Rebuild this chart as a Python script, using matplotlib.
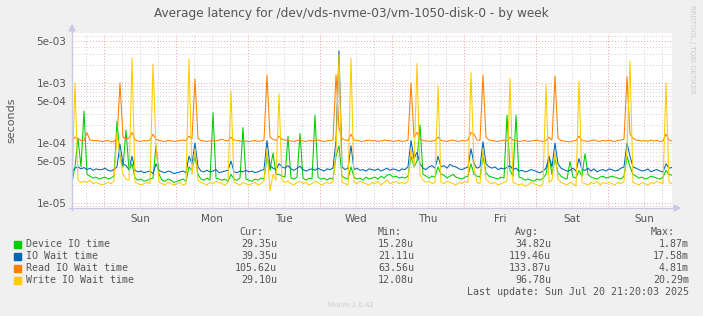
"""
Munin style week graph: average disk latency, log scale
"""
import numpy as np
import pandas as pd
import matplotlib
matplotlib.use('Agg')
import matplotlib.pyplot as plt
from matplotlib.lines import Line2D
from matplotlib.patches import Rectangle, Polygon

# hourly samples, microseconds
start = '2025-07-12 13:20'

device_io = [
    22, 40, 120, 40, 340, 30, 28, 26, 27, 25,
    26, 27, 25, 26, 28, 230, 60, 40, 165, 35,
    45, 26, 24, 25, 23, 24, 25, 26, 90, 30,
    24, 23, 25, 24, 22, 23, 24, 25, 23, 40,
    35, 60, 30, 25, 24, 26, 24, 320, 26, 25,
    24, 25, 23, 30, 25, 24, 26, 180, 25, 24,
    23, 25, 24, 26, 25, 60, 35, 68, 30, 30,
    28, 27, 130, 26, 25, 27, 145, 26, 24, 26,
    25, 290, 27, 25, 26, 24, 26, 25, 60, 90,
    28, 26, 25, 40, 27, 25, 26, 24, 27, 25,
    26, 27, 25, 28, 26, 29, 30, 27, 28, 26,
    27, 26, 28, 60, 40, 50, 200, 30, 28, 26,
    28, 27, 40, 30, 29, 26, 28, 30, 27, 26,
    25, 27, 28, 45, 30, 28, 27, 60, 32, 28,
    27, 26, 25, 27, 26, 290, 35, 28, 290, 27,
    26, 24, 25, 24, 23, 25, 24, 26, 30, 60,
    30, 55, 32, 28, 26, 25, 49, 27, 26, 35,
    28, 66, 30, 27, 26, 25, 27, 28, 26, 27,
    28, 27, 26, 25, 28, 60, 40, 30, 28, 26,
    27, 25, 26, 28, 27, 26, 25, 27, 35, 30,
    29]

io_wait = [
    33, 38, 40, 37, 39, 36, 38, 35, 37, 36,
    36, 38, 35, 34, 36, 40, 95, 45, 42, 36,
    60, 35, 33, 34, 32, 33, 34, 31, 45, 35,
    33, 32, 34, 33, 31, 32, 33, 34, 32, 60,
    45, 100, 40, 34, 33, 35, 33, 34, 36, 32,
    33, 34, 35, 50, 33, 32, 34, 33, 35, 33,
    34, 32, 33, 35, 36, 110, 42, 38, 36, 45,
    40, 38, 42, 37, 35, 38, 41, 36, 34, 36,
    37, 35, 38, 36, 34, 37, 36, 38, 110, 3400,
    40, 36, 38, 90, 36, 38, 35, 36, 34, 37,
    36, 35, 37, 34, 36, 38, 35, 37, 36, 34,
    37, 36, 40, 110, 55, 70, 45, 38, 36, 40,
    42, 38, 60, 40, 42, 38, 44, 41, 40, 37,
    36, 38, 40, 80, 45, 38, 40, 105, 45, 40,
    38, 40, 36, 38, 37, 39, 42, 36, 38, 34,
    35, 33, 34, 36, 35, 33, 32, 34, 38, 60,
    40, 100, 45, 38, 36, 34, 35, 38, 34, 55,
    36, 35, 38, 34, 37, 33, 35, 36, 34, 37,
    36, 34, 35, 38, 40, 100, 60, 40, 38, 36,
    34, 35, 37, 33, 35, 36, 34, 33, 45, 38,
    39]

read_wait = [
    105, 125, 118, 110, 109, 148, 112, 109, 110, 108,
    106, 108, 110, 104, 107, 118, 1000, 125, 118, 120,
    150, 112, 108, 106, 110, 108, 112, 140, 115, 110,
    108, 106, 110, 109, 106, 108, 110, 112, 109, 130,
    118, 1170, 120, 110, 108, 106, 108, 110, 108, 112,
    115, 110, 108, 125, 112, 110, 108, 106, 108, 105,
    108, 110, 106, 108, 112, 1360, 125, 115, 110, 130,
    115, 112, 110, 108, 106, 110, 112, 108, 106, 110,
    108, 110, 112, 109, 106, 108, 110, 112, 1360, 180,
    118, 112, 110, 140, 112, 110, 108, 106, 110, 112,
    108, 110, 106, 108, 112, 110, 109, 106, 108, 110,
    106, 108, 112, 1000, 125, 150, 118, 110, 108, 106,
    108, 110, 125, 110, 108, 106, 110, 112, 108, 106,
    110, 108, 112, 150, 140, 112, 110, 1360, 125, 112,
    110, 108, 106, 110, 112, 108, 125, 112, 110, 106,
    108, 110, 106, 108, 110, 112, 108, 106, 110, 125,
    112, 1300, 120, 110, 108, 106, 104, 108, 110, 130,
    110, 108, 106, 110, 112, 108, 106, 110, 108, 112,
    108, 106, 110, 112, 115, 1280, 140, 120, 112, 110,
    108, 110, 106, 112, 108, 110, 106, 108, 140, 112,
    108]

write_wait = [
    21, 1000, 24, 22, 23, 22, 24, 21, 22, 21,
    20, 21, 22, 21, 23, 150, 60, 30, 25, 24,
    2600, 22, 21, 20, 21, 22, 21, 2070, 90, 22,
    21, 20, 22, 21, 20, 21, 22, 20, 21, 2500,
    30, 80, 24, 22, 21, 20, 22, 21, 23, 22,
    21, 20, 22, 740, 22, 21, 20, 22, 21, 20,
    21, 22, 20, 21, 23, 80, 16, 30, 24, 660,
    24, 22, 23, 21, 20, 22, 23, 21, 22, 20,
    21, 23, 22, 20, 21, 22, 21, 23, 70, 3000,
    22, 21, 20, 2600, 22, 21, 23, 22, 21, 20,
    22, 21, 23, 20, 22, 24, 21, 22, 23, 21,
    22, 21, 23, 80, 40, 2100, 30, 24, 22, 23,
    21, 22, 890, 22, 21, 23, 22, 21, 20, 22,
    21, 23, 22, 1500, 40, 22, 21, 80, 25, 22,
    21, 22, 20, 21, 22, 23, 1200, 22, 21, 20,
    21, 19, 20, 22, 21, 20, 19, 21, 930, 22,
    24, 70, 25, 22, 21, 20, 22, 21, 19, 1080,
    22, 21, 20, 22, 21, 23, 20, 22, 21, 22,
    21, 20, 22, 21, 23, 80, 2300, 22, 21, 20,
    22, 21, 20, 22, 21, 23, 22, 21, 1000, 22,
    21]

labels = ['Device IO time', 'IO Wait time', 'Read IO Wait time', 'Write IO Wait time']
colors = ['#00CC00', '#0066B3', '#FF8000', '#FFCC00']
cur = ['29.35u', '39.35u', '105.62u', '29.10u']
mins = ['15.28u', '21.11u', '63.56u', '12.08u']
avgs = ['34.82u', '119.46u', '133.87u', '96.78u']
maxs = ['1.87m', '17.58m', '4.81m', '20.29m']
day_names = ['Sun', 'Mon', 'Tue', 'Wed', 'Thu', 'Fri', 'Sat', 'Sun']
ytick_vals = [5e-3, 1e-3, 5e-4, 1e-4, 5e-5, 1e-5]
ytick_text = ['5e-03', '1e-03', '5e-04', '1e-04', '5e-05', '1e-05']

W, H = 703, 316
fig = plt.figure(figsize=(W / 100, H / 100), dpi=100)
fig.patch.set_facecolor('#F0F0F0')

def fx(px):
    return px / W

def fy(py):
    return 1 - py / H

ax = fig.add_axes([fx(72), fy(208), 600 / W, 175 / H])
ax.set_facecolor('white')

times = pd.date_range(start, periods=len(device_io), freq='h')
series = [device_io, io_wait, read_wait, write_wait]
for vals, c in zip(series, colors):
    ax.plot(times, np.array(vals) * 1e-6, color=c, lw=0.75, zorder=3)

ax.set_yscale('log')
ax.set_ylim(8.25e-6, 6.8e-3)
ax.set_xlim(times[0], times[-1])

# grid
grid_red = '#F0A0A0'
grid_gray = '#CFCFCF'
for dec in [1e-6, 1e-5, 1e-4, 1e-3]:
    for m in range(1, 10):
        v = dec * m
        if 8.25e-6 < v < 6.8e-3:
            col = grid_red if m in (1, 5) else grid_gray
            ax.axhline(v, color=col, lw=0.7, ls=(0, (1, 2)), zorder=1)

midnights = pd.date_range('2025-07-13', periods=8, freq='D')
six_hours = pd.date_range('2025-07-12 18:00', '2025-07-20 18:00', freq='6h')
for t in six_hours:
    if t in midnights:
        ax.axvline(t, color=grid_red, lw=0.7, ls=(0, (1, 2)), zorder=1)
    else:
        ax.axvline(t, color=grid_gray, lw=0.7, ls=(0, (1, 2)), zorder=1)

noons = pd.date_range('2025-07-13 12:00', periods=8, freq='D')
ax.set_xticks(noons)
ax.set_xticklabels(day_names)
ax.set_yticks(ytick_vals)
ax.set_yticklabels(ytick_text)
ax.minorticks_off()
ax.tick_params(axis='both', length=0, labelsize=7.5, labelcolor='#555555', pad=4)

for s in ['top', 'right', 'left', 'bottom']:
    ax.spines[s].set_visible(False)

# axis lines with arrows
axis_col = '#C8C8E8'
fig.add_artist(Line2D([fx(72), fx(72)], [fy(210), fy(30)], color=axis_col, lw=1))
fig.add_artist(Line2D([fx(69), fx(675)], [fy(208), fy(208)], color=axis_col, lw=1))
fig.add_artist(Polygon([[fx(69), fy(31)], [fx(75), fy(31)], [fx(72), fy(25)]],
                       closed=True, color=axis_col))
fig.add_artist(Polygon([[fx(674), fy(205)], [fx(674), fy(211)], [fx(680), fy(208)]],
                       closed=True, color=axis_col))

fig.text(fx(351), fy(14), 'Average latency for /dev/vds-nvme-03/vm-1050-disk-0 - by week',
         ha='center', va='center', fontsize=8.7, color='#555555')
fig.text(fx(11), fy(120), 'seconds', rotation=90, ha='center', va='center',
         fontsize=8, color='#555555')
fig.text(fx(692), fy(5), 'RRDTOOL / TOBI OETIKER', rotation=270, ha='center', va='top',
         fontsize=5, color='#CCCCCC')
fig.text(fx(351), fy(305), 'Munin 2.0.42', ha='center', va='center',
         fontsize=5, color='#CCCCCC')

# legend
mono = dict(family='DejaVu Sans Mono', fontsize=7.2, color='#555555', va='center')
for txt, xr in zip(['Cur:', 'Min:', 'Avg:', 'Max:'], [263, 402, 539, 675]):
    fig.text(fx(xr), fy(232), txt, ha='right', **mono)

rows_y = [244, 256, 268, 280]
for i in range(4):
    y = rows_y[i]
    fig.add_artist(Rectangle((fx(14), fy(y + 3.5)), 7 / W, 7 / H, color=colors[i]))
    fig.text(fx(26), fy(y), labels[i], ha='left', **mono)
    fig.text(fx(277), fy(y), cur[i], ha='right', **mono)
    fig.text(fx(414), fy(y), mins[i], ha='right', **mono)
    fig.text(fx(551), fy(y), avgs[i], ha='right', **mono)
    fig.text(fx(689), fy(y), maxs[i], ha='right', **mono)

fig.text(fx(689), fy(292), 'Last update: Sun Jul 20 21:20:03 2025', ha='right', **mono)

fig.savefig('out.png', dpi=100, facecolor=fig.get_facecolor())
plt.close(fig)
